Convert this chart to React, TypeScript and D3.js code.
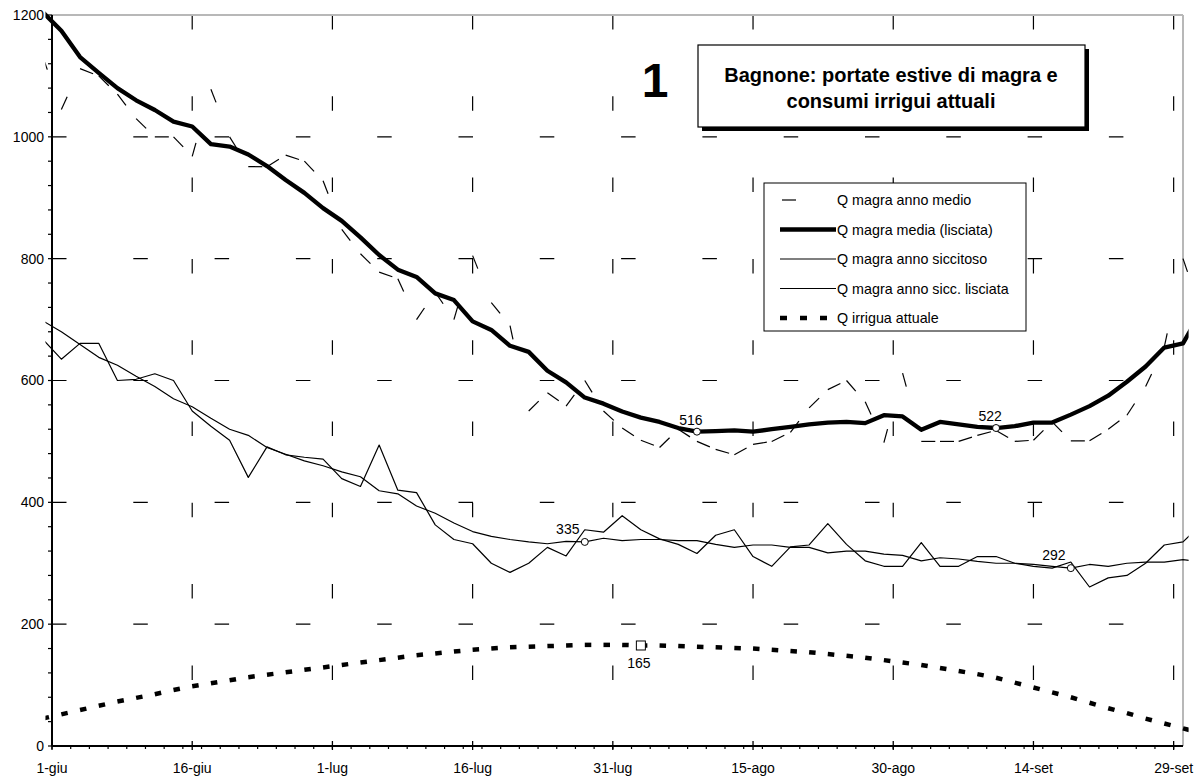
import React from 'react';
import * as d3 from 'd3';

// day index from 1-giu (day 0)
const days = [-1, 1, 3, 5, 7, 9, 11, 13, 15, 17, 19, 21, 23, 25, 27, 29, 31, 33, 35, 37, 39, 41, 43, 45, 47, 49, 51, 53, 55, 57, 59, 61, 63, 65, 67, 69, 71, 73, 75, 77, 79, 81, 83, 85, 87, 89, 91, 93, 95, 97, 99, 101, 103, 105, 107, 109, 111, 113, 115, 117, 119, 121, 123];

const qMedio = [1132, 1045, 1112, 1100, 1070, 1030, 1000, 1000, 968, 1078, 1000, 951, 951, 970, 960, 928, 848, 808, 778, 767, 700, 745, 700, 805, 728, 690, 550, 580, 558, 600, 550, 522, 502, 490, 520, 500, 487, 478, 495, 500, 515, 555, 585, 600, 565, 498, 612, 500, 500, 500, 510, 518, 500, 502, 532, 501, 501, 520, 543, 590, 655, 800, 710];

const qMediaLisc = [1205, 1174, 1131, 1105, 1080, 1060, 1044, 1025, 1017, 988, 984, 971, 952, 929, 908, 883, 862, 835, 806, 782, 770, 743, 732, 697, 683, 657, 647, 616, 597, 572, 562, 549, 539, 532, 522, 516, 517, 518, 516, 520, 524, 528, 531, 532, 530, 543, 541, 519, 532, 528, 524, 522, 525, 531, 531, 544, 558, 575, 598, 623, 654, 661, 715];

const qSicc = [668, 635, 661, 661, 600, 602, 611, 600, 550, 525, 502, 441, 491, 478, 474, 471, 439, 426, 494, 420, 416, 363, 339, 332, 300, 285, 300, 326, 312, 355, 351, 378, 355, 340, 331, 316, 346, 355, 311, 295, 327, 330, 365, 331, 304, 295, 295, 334, 295, 295, 311, 311, 300, 295, 292, 302, 261, 276, 280, 300, 330, 335, 365];

const qSiccLisc = [698, 680, 659, 638, 625, 607, 590, 570, 557, 538, 520, 510, 490, 479, 468, 460, 450, 442, 419, 414, 394, 382, 366, 352, 344, 339, 335, 332, 336, 335, 341, 337, 339, 339, 337, 337, 331, 326, 330, 330, 326, 326, 317, 320, 320, 315, 313, 304, 309, 307, 303, 300, 300, 298, 295, 292, 298, 295, 300, 302, 302, 306, 302];

const qIrrigua = [45, 52, 59, 66, 73, 79, 85, 92, 98, 103, 108, 113, 117, 121, 125, 129, 133, 137, 141, 145, 149, 152, 155, 158, 160, 162, 163, 164, 165, 166, 166, 166, 165, 165, 164, 163, 162, 161, 160, 158, 156, 154, 151, 148, 145, 141, 137, 133, 128, 123, 118, 112, 104, 96, 88, 80, 71, 62, 54, 45, 37, 29, 21];

const xTickDays = [0, 15, 30, 45, 60, 75, 90, 105, 120];
const xTickLabels = ['1-giu', '16-giu', '1-lug', '16-lug', '31-lug', '15-ago', '30-ago', '14-set', '29-set'];
const yTicks = [0, 200, 400, 600, 800, 1000, 1200];

const legendLabels = [
  'Q magra anno medio',
  'Q magra media (lisciata)',
  'Q magra anno siccitoso',
  'Q magra anno sicc. lisciata',
  'Q irrigua attuale',
];

const titleLines = ['Bagnone: portate estive di magra e', 'consumi irrigui attuali'];

// highlighted points: [day, value]
const circleMarksMedia = [[69, 516], [101, 522]];
const circleMarksSicc = [[57, 335], [109, 292]];
const squareMarksIrr = [[63, 165]];

const FONT = "'Liberation Sans', Arial, sans-serif";

export default function App() {
  const x = d3.scaleLinear().domain([0, 121]).range([52, 1183]);
  const y = d3.scaleLinear().domain([0, 1200]).range([746, 15]);
  const line = d3.line<[number, number]>().x(d => x(d[0])).y(d => y(d[1]));
  const pts = (vals: number[]) => days.map((d, i) => [d, vals[i]] as [number, number]);
  const segs = (vals: number[]) => d3.pairs(pts(vals));

  const x0 = x(0), x1 = x(121), yTop = y(1200), yBot = y(0);
  const minorX = d3.range(0, 121, 2);
  const minorY = d3.range(0, 1201, 40);
  const gridDash = '14.5 66.8';

  const legX = 764, legY = 183, legW = 262, legH = 148;
  const legRow = (i: number) => 200 + i * 29.5;

  return (
    <svg width={1198} height={778} style={{ position: 'absolute', left: 0, top: 0, background: '#fff' }}
      fontFamily={FONT}>
      <defs>
        <clipPath id="plotclip">
          <rect x={x(-0.7)} y={0} width={x(121.6) - x(-0.7)} height={778} />
        </clipPath>
      </defs>
      <rect x={0} y={0} width={1198} height={778} fill="#fff" />

      {/* grid */}
      {yTicks.filter(v => v > 0).map(v => (
        <line key={'gy' + v} x1={x0} x2={x1} y1={y(v)} y2={y(v)} stroke="#000" strokeWidth={1.2}
          strokeDasharray={gridDash} />
      ))}
      {xTickDays.filter(d => d > 0).map(d => (
        <line key={'gx' + d} x1={x(d)} x2={x(d)} y1={yTop} y2={yBot} stroke="#000" strokeWidth={1.2}
          strokeDasharray={gridDash} />
      ))}

      {/* plot border top / right */}
      <line x1={x0} x2={x1} y1={yTop} y2={yTop} stroke="#b8b8b8" strokeWidth={2} />
      <line x1={x1} x2={x1} y1={yTop} y2={yBot} stroke="#b8b8b8" strokeWidth={2} />

      {/* series */}
      <g clipPath="url(#plotclip)">
        {segs(qMedio).map((s, i) => (
          <path key={'m' + i} d={line(s) as string} fill="none" stroke="#000" strokeWidth={1.2}
            strokeDasharray="14 300" />
        ))}
        <path d={line(pts(qSicc)) as string} fill="none" stroke="#000" strokeWidth={1.2} strokeLinejoin="round" />
        <path d={line(pts(qSiccLisc)) as string} fill="none" stroke="#000" strokeWidth={1.2} strokeLinejoin="round" />
        <path d={line(pts(qMediaLisc)) as string} fill="none" stroke="#000" strokeWidth={4.3} strokeLinejoin="round" />
        {segs(qIrrigua).map((s, i) => (
          <path key={'i' + i} d={line(s) as string} fill="none" stroke="#000" strokeWidth={4.5}
            strokeDasharray="6.5 13" />
        ))}
      </g>

      {/* axes */}
      <line x1={x0} x2={x0} y1={yTop} y2={yBot} stroke="#000" strokeWidth={2} />
      <line x1={x0} x2={x1} y1={yBot} y2={yBot} stroke="#000" strokeWidth={2} />
      {minorY.map(v => (
        <line key={'ty' + v} x1={x0 - 4} x2={x0} y1={y(v)} y2={y(v)} stroke="#000" strokeWidth={1.2} />
      ))}
      {minorX.map(d => (
        <line key={'tx' + d} x1={x(d)} x2={x(d)} y1={yBot} y2={yBot + 3} stroke="#000" strokeWidth={1.2} />
      ))}
      {xTickDays.map(d => (
        <line key={'TX' + d} x1={x(d)} x2={x(d)} y1={yBot - 5} y2={yBot + 4} stroke="#000" strokeWidth={1.3} />
      ))}
      {yTicks.map(v => (
        <text key={'ly' + v} x={x0 - 8} y={y(v)} dy="0.35em" textAnchor="end" fontSize={14}>{v}</text>
      ))}
      {xTickDays.map((d, i) => (
        <text key={'lx' + d} x={x(d)} y={yBot + 27} textAnchor="middle" fontSize={14}>{xTickLabels[i]}</text>
      ))}

      {/* marks */}
      {circleMarksMedia.map(([d, v]) => (
        <g key={'cm' + d}>
          <circle cx={x(d)} cy={y(v)} r={3.5} fill="#fff" stroke="#000" strokeWidth={1} />
          <text x={x(d) - 6} y={y(v) - 7} textAnchor="middle" fontSize={14}>{v}</text>
        </g>
      ))}
      {circleMarksSicc.map(([d, v]) => (
        <g key={'cs' + d}>
          <circle cx={x(d)} cy={y(v)} r={3.5} fill="#fff" stroke="#000" strokeWidth={1} />
          <text x={x(d) - 17} y={y(v) - 8} textAnchor="middle" fontSize={14}>{v}</text>
        </g>
      ))}
      {squareMarksIrr.map(([d, v]) => (
        <g key={'sq' + d}>
          <rect x={x(d) - 4.5} y={y(v) - 4.5} width={9} height={9} fill="#fff" stroke="#000" strokeWidth={1} />
          <text x={x(d) - 2} y={y(v) + 23} textAnchor="middle" fontSize={14}>{v}</text>
        </g>
      ))}

      {/* legend */}
      <rect x={legX} y={legY} width={legW} height={legH} fill="#fff" stroke="#000" strokeWidth={1} />
      <line x1={782} x2={836} y1={legRow(0)} y2={legRow(0)} stroke="#000" strokeWidth={1.2} strokeDasharray="14 300" />
      <line x1={780} x2={836} y1={legRow(1)} y2={legRow(1)} stroke="#000" strokeWidth={4.3} />
      <line x1={780} x2={836} y1={legRow(2)} y2={legRow(2)} stroke="#000" strokeWidth={1.2} />
      <line x1={780} x2={836} y1={legRow(3)} y2={legRow(3)} stroke="#000" strokeWidth={1.2} />
      <line x1={780} x2={836} y1={legRow(4)} y2={legRow(4)} stroke="#000" strokeWidth={4.5} strokeDasharray="7 13" />
      {legendLabels.map((t, i) => (
        <text key={'lg' + i} x={837} y={legRow(i)} dy="0.35em" fontSize={14.3}>{t}</text>
      ))}

      {/* title box */}
      <rect x={702} y={49} width={387} height={82} fill="#000" />
      <rect x={698} y={45} width={387} height={82} fill="#fff" stroke="#000" strokeWidth={1.2} />
      {titleLines.map((t, i) => (
        <text key={'tt' + i} x={891} y={82 + i * 26} textAnchor="middle" fontSize={20} fontWeight="bold">{t}</text>
      ))}
      <text x={655} y={97} textAnchor="middle" fontSize={48} fontWeight="bold">1</text>
    </svg>
  );
}
